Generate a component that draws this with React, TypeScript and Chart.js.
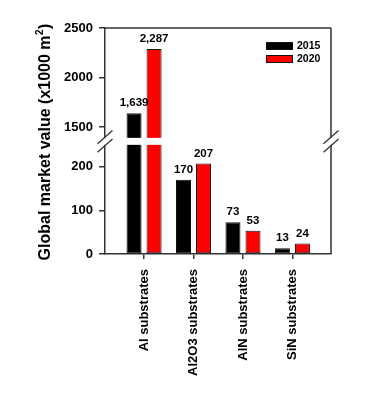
import React, { useEffect, useRef } from 'react';
import { Chart, registerables } from 'chart.js';

Chart.register(...registerables);

const categories = ['Al substrates', 'Al2O3 substrates', 'AlN substrates', 'SiN substrates'];
const years = ['2015', '2020'];
const values2015 = [1639, 170, 73, 13];
const values2020 = [2287, 207, 53, 24];
const barColors = ['#000000', '#ff0000'];
const upperTicks = [1500, 2000, 2500];
const lowerTicks = [0, 100, 200];
const upperRange = [1355, 2500];
const lowerRange = [0, 258];
const xRange = [-0.79, 3.78];
const yTitleMain = 'Global market value (x1000 m';
const yTitleSup = '2';
const yTitleEnd = ')';

const FONT = '"Liberation Sans", Arial, sans-serif';
const AXIS = '#333333';

export default function App() {
  const ref = useRef<HTMLCanvasElement>(null);

  useEffect(() => {
    const canvas = ref.current;
    if (!canvas) return;
    const series = [values2015, values2020];
    const datasets: any[] = [];
    const panels = ['yLow', 'yHigh'];
    panels.forEach((axisId) => {
      series.forEach((vals, k) => {
        datasets.push({
          label: years[k],
          stack: years[k],
          yAxisID: axisId,
          data: vals.map((v, i) => ({ x: i, y: v })),
          backgroundColor: barColors[k],
          borderColor: '#111111',
          borderWidth: 1,
          borderSkipped: false,
          categoryPercentage: 0.81,
          barPercentage: 0.75,
        });
      });
    });

    const clipPlugin = {
      id: 'panelClip',
      beforeDatasetDraw(chart: any, args: any) {
        const meta = args.meta;
        const ys = meta.vScale;
        const { ctx, chartArea } = chart;
        ctx.save();
        ctx.beginPath();
        ctx.rect(chartArea.left, ys.top, chartArea.right - chartArea.left, ys.bottom - ys.top);
        ctx.clip();
      },
      afterDatasetDraw(chart: any) {
        chart.ctx.restore();
      },
    };

    const decoPlugin = {
      id: 'deco',
      afterDraw(chart: any) {
        const { ctx, chartArea } = chart;
        const { left, right, top, bottom } = chartArea;
        const yHigh = chart.scales.yHigh;
        const yLow = chart.scales.yLow;
        ctx.save();
        // frame: top and right
        ctx.strokeStyle = AXIS;
        ctx.lineWidth = 1.5;
        ctx.beginPath();
        ctx.moveTo(left, top);
        ctx.lineTo(right, top);
        ctx.moveTo(right, top);
        ctx.lineTo(right, bottom);
        ctx.stroke();

        // break band
        const mid = yHigh.bottom;
        ctx.fillStyle = '#ffffff';
        ctx.fillRect(left - 10, mid - 3.5, right - left + 20, 7);
        ctx.strokeStyle = AXIS;
        ctx.lineWidth = 1.3;
        [left, right].forEach((x0) => {
          [-4.25, 4.25].forEach((dy) => {
            ctx.beginPath();
            ctx.moveTo(x0 - 7.5, mid + dy + 6.6);
            ctx.lineTo(x0 + 7.5, mid + dy - 6.6);
            ctx.stroke();
          });
        });

        // value labels
        ctx.fillStyle = '#000000';
        ctx.font = `bold 11.5px ${FONT}`;
        ctx.textAlign = 'center';
        ctx.textBaseline = 'alphabetic';
        const series = [values2015, values2020];
        series.forEach((vals, k) => {
          vals.forEach((v, i) => {
            const high = v > lowerRange[1];
            const scale = high ? yHigh : yLow;
            const meta = chart.getDatasetMeta(high ? 2 + k : k);
            const el = meta.data[i];
            const y = scale.getPixelForValue(v) - 7;
            ctx.fillText(v.toLocaleString('en-US'), el.x, y);
          });
        });

        // legend
        ctx.font = `bold 10.5px ${FONT}`;
        ctx.textAlign = 'left';
        ctx.textBaseline = 'middle';
        years.forEach((yr, k) => {
          const bx = right - 65;
          const by = top + 14 + k * 13;
          ctx.fillStyle = barColors[k];
          ctx.fillRect(bx, by, 27, 8);
          ctx.strokeStyle = '#111111';
          ctx.lineWidth = 1;
          ctx.strokeRect(bx + 0.5, by + 0.5, 26, 7);
          ctx.fillStyle = '#000000';
          ctx.fillText(yr, bx + 31, by + 4.5);
        });

        // y title
        ctx.translate(50, (top + bottom) / 2 + 1);
        ctx.rotate(-Math.PI / 2);
        const mainFont = `bold 16px ${FONT}`;
        const supFont = `bold 10px ${FONT}`;
        ctx.font = mainFont;
        const w1 = ctx.measureText(yTitleMain).width;
        const w3 = ctx.measureText(yTitleEnd).width;
        ctx.font = supFont;
        const w2 = ctx.measureText(yTitleSup).width;
        const total = w1 + w2 + w3 + 1;
        let x = -total / 2;
        ctx.textAlign = 'left';
        ctx.textBaseline = 'alphabetic';
        ctx.fillStyle = '#000000';
        ctx.font = mainFont;
        ctx.fillText(yTitleMain, x, 0);
        x += w1 + 0.5;
        ctx.font = supFont;
        ctx.fillText(yTitleSup, x, -7);
        x += w2 + 0.5;
        ctx.font = mainFont;
        ctx.fillText(yTitleEnd, x, 0);
        ctx.restore();
      },
    };

    const yCommon = (ticksArr: number[]) => ({
      type: 'linear',
      position: 'left',
      stack: 'value',
      stacked: false,
      bounds: 'data',
      afterBuildTicks: (s: any) => {
        s.ticks = ticksArr.map((v) => ({ value: v }));
      },
      afterFit: (s: any) => {
        s.width = 105;
      },
      ticks: {
        callback: (v: any) => String(v),
        font: { family: FONT, size: 13, weight: 'bold' },
        color: '#000000',
        padding: 6,
      },
      grid: { drawOnChartArea: false, drawTicks: true, tickLength: 6, color: AXIS, lineWidth: 1.5 },
      border: { display: true, color: AXIS, width: 1.5 },
    });

    const chart = new Chart(canvas, {
      type: 'bar',
      data: { datasets },
      options: {
        responsive: false,
        maintainAspectRatio: false,
        animation: false,
        devicePixelRatio: 1,
        layout: { padding: { top: 28, right: 42, left: 0, bottom: 0 } },
        plugins: { legend: { display: false }, tooltip: { enabled: false } },
        scales: {
          x: {
            type: 'linear',
            min: xRange[0],
            max: xRange[1],
            offset: false,
            bounds: 'data',
            afterBuildTicks: (s: any) => {
              s.ticks = categories.map((_, i) => ({ value: i }));
            },
            afterFit: (s: any) => {
              s.height = 146;
            },
            ticks: {
              callback: (_v: any, i: number) => categories[i] ?? '',
              autoSkip: false,
              minRotation: 90,
              maxRotation: 90,
              font: { family: FONT, size: 13, weight: 'bold' },
              color: '#000000',
              padding: 10,
            },
            grid: { offset: false, drawOnChartArea: false, drawTicks: true, tickLength: 5, color: AXIS, lineWidth: 1.5 },
            border: { display: true, color: AXIS, width: 1.5 },
          },
          yLow: { ...yCommon(lowerTicks), min: lowerRange[0], max: lowerRange[1], stackWeight: 112.7 },
          yHigh: { ...yCommon(upperTicks), min: upperRange[0], max: upperRange[1], stackWeight: 113.4 },
        } as any,
      },
      plugins: [clipPlugin, decoPlugin],
    } as any);

    return () => chart.destroy();
  }, []);

  return (
    <div style={{ position: 'absolute', left: 0, top: 0, width: 373, height: 400, background: '#ffffff' }}>
      <canvas ref={ref} width={373} height={400} style={{ display: 'block', width: 373, height: 400 }} />
    </div>
  );
}
